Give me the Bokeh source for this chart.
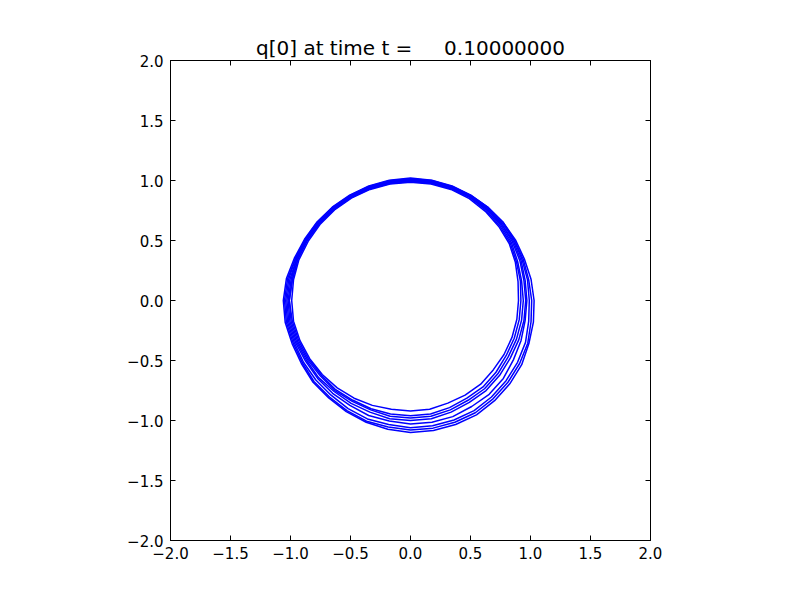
import numpy as np
from bokeh.plotting import figure
from bokeh.models import Range1d, FixedTicker, LinearAxis, CustomJSTickFormatter
from bokeh.embed import file_html
from bokeh.resources import INLINE

angles_deg = [0, 10, 20, 30, 40, 50, 60, 70, 80, 90, 100, 110,
              120, 130, 140, 150, 160, 170, 180, 190, 200, 210, 220, 230,
              240, 250, 260, 270, 280, 290, 300, 310, 320, 330, 340, 350]

# Radius of each contour line at those angles (innermost to outermost)
r_c1 = [0.90, 0.91, 0.93, 0.95, 0.96, 0.97, 0.980, 0.985, 0.985, 0.985, 0.985, 0.985,
        0.985, 0.985, 0.985, 0.985, 0.99, 0.99, 0.99, 0.99, 0.98, 0.97, 0.96, 0.95,
        0.94, 0.93, 0.92, 0.92, 0.92, 0.91, 0.91, 0.91, 0.90, 0.90, 0.90, 0.90]
r_c2 = [0.92, 0.93, 0.94, 0.96, 0.97, 0.98, 0.990, 0.990, 0.992, 0.992, 0.990, 0.990,
        0.990, 0.990, 0.992, 0.995, 1.00, 1.00, 1.01, 1.00, 0.99, 0.98, 0.97, 0.97,
        0.96, 0.96, 0.96, 0.96, 0.96, 0.95, 0.94, 0.94, 0.93, 0.92, 0.92, 0.92]
r_c3 = [0.94, 0.94, 0.95, 0.97, 0.98, 0.99, 0.995, 0.997, 0.997, 0.997, 0.995, 0.995,
        0.995, 0.997, 0.997, 1.000, 1.00, 1.00, 1.01, 1.01, 1.00, 0.99, 0.98, 0.98,
        0.97, 0.97, 0.98, 0.98, 0.98, 0.97, 0.96, 0.96, 0.95, 0.94, 0.94, 0.94]
r_c4 = [0.96, 0.96, 0.97, 0.98, 0.99, 0.99, 1.000, 1.000, 1.000, 1.000, 1.000, 1.000,
        1.000, 1.000, 1.002, 1.005, 1.01, 1.01, 1.02, 1.02, 1.01, 1.00, 1.00, 0.99,
        0.99, 0.99, 1.00, 1.00, 1.00, 0.99, 0.98, 0.98, 0.97, 0.96, 0.96, 0.96]
r_c5 = [0.97, 0.97, 0.98, 0.99, 0.99, 1.00, 1.002, 1.005, 1.005, 1.005, 1.005, 1.003,
        1.003, 1.005, 1.007, 1.010, 1.01, 1.02, 1.03, 1.03, 1.02, 1.01, 1.01, 1.01,
        1.01, 1.02, 1.02, 1.03, 1.03, 1.03, 1.02, 1.02, 1.01, 0.99, 0.98, 0.97]
r_c6 = [0.99, 0.99, 0.99, 1.00, 1.00, 1.00, 1.005, 1.010, 1.010, 1.010, 1.010, 1.007,
        1.007, 1.007, 1.010, 1.012, 1.02, 1.03, 1.04, 1.04, 1.03, 1.03, 1.03, 1.03,
        1.04, 1.05, 1.05, 1.06, 1.06, 1.06, 1.06, 1.05, 1.04, 1.03, 1.02, 1.00]
r_c7 = [1.01, 1.00, 1.00, 1.00, 1.01, 1.01, 1.010, 1.012, 1.015, 1.015, 1.013, 1.012,
        1.010, 1.012, 1.014, 1.015, 1.02, 1.04, 1.05, 1.05, 1.04, 1.04, 1.05, 1.05,
        1.06, 1.07, 1.07, 1.08, 1.08, 1.08, 1.08, 1.07, 1.06, 1.05, 1.04, 1.02]
r_c8 = [1.03, 1.02, 1.01, 1.01, 1.01, 1.01, 1.012, 1.015, 1.018, 1.020, 1.018, 1.015,
        1.014, 1.015, 1.017, 1.020, 1.03, 1.05, 1.06, 1.06, 1.05, 1.05, 1.06, 1.06,
        1.07, 1.08, 1.09, 1.10, 1.10, 1.10, 1.10, 1.09, 1.08, 1.07, 1.05, 1.04]

contours = [r_c1, r_c2, r_c3, r_c4, r_c5, r_c6, r_c7, r_c8]

tick_values = [-2.0, -1.5, -1.0, -0.5, 0.0, 0.5, 1.0, 1.5, 2.0]
title_text = "q[0] at time t =\u00a0\u00a0\u00a0\u00a0\u00a00.10000000"

theta = np.deg2rad(np.array(angles_deg + [angles_deg[0] + 360]))
xs, ys = [], []
for r in contours:
    rr = np.array(r + [r[0]])
    xs.append(list(rr * np.cos(theta)))
    ys.append(list(rr * np.sin(theta)))

p = figure(width=784, height=584, output_backend="svg", toolbar_location=None,
           x_range=Range1d(-2, 2), y_range=Range1d(-2, 2),
           min_border_left=170, min_border_right=134,
           min_border_top=60, min_border_bottom=44)

p.multi_line(xs, ys, line_color="#0000ff", line_width=1.5)

p.title.text = title_text
p.title.align = "center"
p.title.text_font = "DejaVu Sans"
p.title.text_font_size = "20px"
p.title.text_font_style = "normal"
p.title.text_color = "black"
p.title.standoff = 2

p.xgrid.visible = False
p.ygrid.visible = False
p.outline_line_color = "black"
p.outline_line_width = 1
p.background_fill_color = "white"
p.border_fill_color = "white"

fmt = CustomJSTickFormatter(code="return (tick < 0 ? '\u2212' : '') + Math.abs(tick).toFixed(1);")

for ax in [p.xaxis[0], p.yaxis[0]]:
    ax.ticker = FixedTicker(ticks=tick_values)
    ax.formatter = fmt
    ax.major_tick_in = 5
    ax.major_tick_out = 0
    ax.minor_tick_line_color = None
    ax.axis_line_color = "black"
    ax.major_tick_line_color = "black"
    ax.major_label_text_font = "DejaVu Sans"
    ax.major_label_text_font_size = "15px"
    ax.major_label_text_color = "black"
p.xaxis[0].major_label_standoff = 6
p.yaxis[0].major_label_standoff = 7

for loc in ["above", "right"]:
    ax = LinearAxis(ticker=FixedTicker(ticks=tick_values),
                    major_tick_in=5, major_tick_out=0,
                    minor_tick_line_color=None,
                    major_label_text_font_size="1px",
                    major_label_text_color=None,
                    major_label_standoff=0,
                    axis_line_color="black")
    p.add_layout(ax, loc)

open("out.html", "w").write(file_html(p, INLINE))
